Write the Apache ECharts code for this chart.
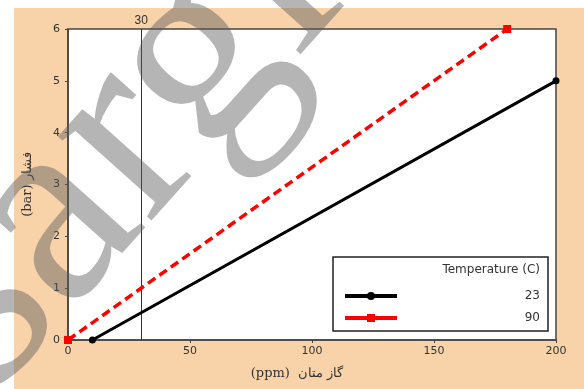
<!DOCTYPE html>
<html>
<head>
<meta charset="utf-8">
<script src="https://cdn.jsdelivr.net/npm/echarts@6/dist/echarts.min.js"></script>
<style>
html,body{margin:0;padding:0;background:#ffffff;}
#c{width:584px;height:389px;}
</style>
</head>
<body>
<div id="c"></div>
<script>
var xTicks = [0, 50, 100, 150, 200];
var yTicks = [0, 1, 2, 3, 4, 5, 6];
var seriesNames = ['23', '90'];
var series23 = [[10, 0], [200, 5]];
var series90 = [[0, 0], [180, 6]];
var refX = 30;
var legendTitle = 'Temperature (C)';
var xName = '(ppm)  گاز متان';
var yName = '(bar) فشار';
var watermark = 'sargl';

var chart = echarts.init(document.getElementById('c'), null, {renderer: 'canvas'});
var labelFont = {color: '#333', fontSize: 11, fontFamily: 'DejaVu Sans'};
var option = {
  animation: false,
  backgroundColor: 'transparent',
  graphic: [
    {type: 'rect', z: -10, shape: {x: 14, y: 8, width: 570, height: 381}, style: {fill: '#f8d3aa'}, silent: true},
    {type: 'rect', z: 50, shape: {x: 333, y: 257, width: 215, height: 74}, style: {fill: '#ffffff', stroke: '#222', lineWidth: 1.5}},
    {type: 'text', z: 51, style: {x: 540, y: 270, text: legendTitle, align: 'right', verticalAlign: 'middle', fill: '#333', font: '12px "DejaVu Sans"'}},
    {type: 'text', z: 200, silent: true, x: 118, y: 150, rotation: 0.84,
     style: {text: watermark, align: 'center', verticalAlign: 'middle', fill: 'rgba(90,90,90,0.45)', font: '274px "Liberation Serif"'}}
  ],
  grid: {left: 68, right: 28, top: 29, bottom: 49, show: true, backgroundColor: '#ffffff', borderColor: '#444', borderWidth: 1.5},
  legend: {
    orient: 'vertical', left: 338, top: 285, itemWidth: 52, itemHeight: 10, itemGap: 10, z: 60,
    data: seriesNames,
    lineStyle: {type: 'solid', width: 4},
    formatter: function (n) { return '{a|' + n + '}'; },
    textStyle: {rich: {a: {width: 138, align: 'right', fontSize: 12, color: '#333', fontFamily: 'DejaVu Sans'}}}
  },
  xAxis: {
    type: 'value', min: 0, max: 200, interval: 50,
    name: xName, nameLocation: 'middle', nameGap: 27,
    nameTextStyle: {fontSize: 13, color: '#333', fontFamily: 'DejaVu Serif', padding: [0, 30, 0, 0]},
    axisLine: {show: true, lineStyle: {color: '#444', width: 1.5}},
    axisTick: {show: true, length: 3, lineStyle: {color: '#444'}},
    axisLabel: Object.assign({margin: 6, formatter: function (v) { return xTicks.indexOf(v) >= 0 ? String(v) : ''; }}, labelFont),
    splitLine: {show: false}
  },
  yAxis: {
    type: 'value', min: 0, max: 6, interval: 1,
    name: yName, nameLocation: 'middle', nameGap: 34,
    nameTextStyle: {fontSize: 13, color: '#333', fontFamily: 'DejaVu Serif'},
    axisLine: {show: true, lineStyle: {color: '#444', width: 1.5}},
    axisTick: {show: true, length: 3, lineStyle: {color: '#444'}},
    axisLabel: Object.assign({margin: 8, formatter: function (v) { return yTicks.indexOf(v) >= 0 ? String(v) : ''; }}, labelFont),
    splitLine: {show: false}
  },
  series: [
    {
      name: seriesNames[0], type: 'line', data: series23,
      symbol: 'circle', symbolSize: 7, z: 5,
      lineStyle: {color: '#000', width: 3},
      itemStyle: {color: '#000'},
      markLine: {
        silent: true, symbol: 'none',
        lineStyle: {color: '#333', width: 1, type: 'solid'},
        label: {show: true, position: 'end', formatter: String(refX), color: '#333', fontSize: 12, distance: 2},
        data: [{xAxis: refX}]
      }
    },
    {
      name: seriesNames[1], type: 'line', data: series90,
      symbol: 'rect', symbolSize: 8, z: 6,
      lineStyle: {color: '#ff0000', width: 3.5, type: [9, 5]},
      itemStyle: {color: '#ff0000'}
    }
  ]
};
chart.setOption(option);
</script>
</body>
</html>
